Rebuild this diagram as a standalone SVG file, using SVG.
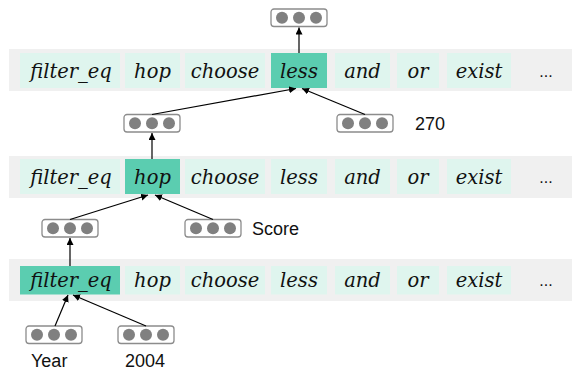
<svg xmlns="http://www.w3.org/2000/svg" width="572" height="374" viewBox="0 0 572 374">
<style>
.band{fill:#f0f0f0}
.op{fill:#dff5ee}
.hl{fill:#5bcdb0}
.t{font-family:"DejaVu Serif","Liberation Serif",serif;font-style:italic;font-size:19.5px;fill:#111;text-anchor:middle}
.dots{font-family:"Liberation Sans",sans-serif;font-size:16px;fill:#111;text-anchor:middle}
.lbl{font-family:"Liberation Sans",sans-serif;font-size:18px;fill:#111}
.vr{fill:#fff;stroke:#8c8c8c;stroke-width:1.3}
.vc{fill:#808080}
.conn line{stroke:#000;stroke-width:1.2;marker-end:url(#ah)}
</style>
<defs>
<marker id="ah" markerWidth="8" markerHeight="8" refX="7" refY="3.5" orient="auto" markerUnits="userSpaceOnUse">
<path d="M0,0 L7,3.5 L0,7 Z" fill="#000"/>
</marker>
<g id="vecshape">
<rect class="vr" x="-28" y="0" width="56" height="17.5" rx="3"/>
<circle class="vc" cx="-17" cy="8.75" r="6"/>
<circle class="vc" cx="0" cy="8.75" r="6"/>
<circle class="vc" cx="17" cy="8.75" r="6"/>
</g>
</defs>

<g id="row1">
<rect class="band" x="9" y="49" width="563" height="42"/>
<rect class="op" x="20" y="53" width="100" height="35"/><text class="t" x="71" y="78">filter_eq</text>
<rect class="op" x="125" y="53" width="55" height="35"/><text class="t" x="152.5" y="78">hop</text>
<rect class="op" x="185" y="53" width="80" height="35"/><text class="t" x="225" y="78">choose</text>
<rect class="hl" x="271" y="53" width="56" height="35"/><text class="t" x="299" y="78">less</text>
<rect class="op" x="335" y="53" width="55" height="35"/><text class="t" x="362.5" y="78">and</text>
<rect class="op" x="397" y="53" width="42" height="35"/><text class="t" x="418" y="78">or</text>
<rect class="op" x="447" y="53" width="64" height="35"/><text class="t" x="479" y="78">exist</text>
<text class="dots" x="546" y="77">...</text>
</g>

<g id="row2">
<rect class="band" x="9" y="156" width="563" height="42"/>
<rect class="op" x="20" y="159" width="100" height="35"/><text class="t" x="71" y="184">filter_eq</text>
<rect class="hl" x="125" y="159" width="55" height="35"/><text class="t" x="152.5" y="184">hop</text>
<rect class="op" x="185" y="159" width="80" height="35"/><text class="t" x="225" y="184">choose</text>
<rect class="op" x="271" y="159" width="56" height="35"/><text class="t" x="299" y="184">less</text>
<rect class="op" x="335" y="159" width="55" height="35"/><text class="t" x="362.5" y="184">and</text>
<rect class="op" x="397" y="159" width="42" height="35"/><text class="t" x="418" y="184">or</text>
<rect class="op" x="447" y="159" width="64" height="35"/><text class="t" x="479" y="184">exist</text>
<text class="dots" x="546" y="183">...</text>
</g>

<g id="row3">
<rect class="band" x="9" y="259" width="563" height="42"/>
<rect class="hl" x="20" y="266" width="100" height="28.5"/><text class="t" x="71" y="287">filter_eq</text>
<rect class="op" x="125" y="266" width="55" height="28.5"/><text class="t" x="152.5" y="287">hop</text>
<rect class="op" x="185" y="266" width="80" height="28.5"/><text class="t" x="225" y="287">choose</text>
<rect class="op" x="271" y="266" width="56" height="28.5"/><text class="t" x="299" y="287">less</text>
<rect class="op" x="335" y="266" width="55" height="28.5"/><text class="t" x="362.5" y="287">and</text>
<rect class="op" x="397" y="266" width="42" height="28.5"/><text class="t" x="418" y="287">or</text>
<rect class="op" x="447" y="266" width="64" height="28.5"/><text class="t" x="479" y="287">exist</text>
<text class="dots" x="546" y="286">...</text>
</g>

<g id="vec-top"><use href="#vecshape" x="299" y="9"/></g>
<g id="vec-hop"><use href="#vecshape" x="152" y="114.5"/></g>
<g id="vec-270"><use href="#vecshape" x="365" y="114.5"/></g>
<g id="vec-filter"><use href="#vecshape" x="70" y="219.5"/></g>
<g id="vec-score"><use href="#vecshape" x="213" y="219.5"/></g>
<g id="vec-year"><use href="#vecshape" x="54" y="326"/></g>
<g id="vec-2004"><use href="#vecshape" x="146" y="326"/></g>

<g id="labels">
<text class="lbl" x="415" y="130">270</text>
<text class="lbl" x="252" y="235">Score</text>
<text class="lbl" x="31" y="367">Year</text>
<text class="lbl" x="125" y="367">2004</text>
</g>

<g id="connectors" class="conn">
<line x1="299" y1="53" x2="299" y2="27.5"/>
<line x1="152" y1="114.5" x2="296" y2="88.5"/>
<line x1="365" y1="114.5" x2="302" y2="88.5"/>
<line x1="152" y1="159" x2="152" y2="133"/>
<line x1="70" y1="219.5" x2="148" y2="195"/>
<line x1="213" y1="219.5" x2="155" y2="195"/>
<line x1="70" y1="266" x2="70" y2="238"/>
<line x1="55" y1="326" x2="68" y2="295"/>
<line x1="146" y1="326" x2="73" y2="295"/>
</g>
</svg>
